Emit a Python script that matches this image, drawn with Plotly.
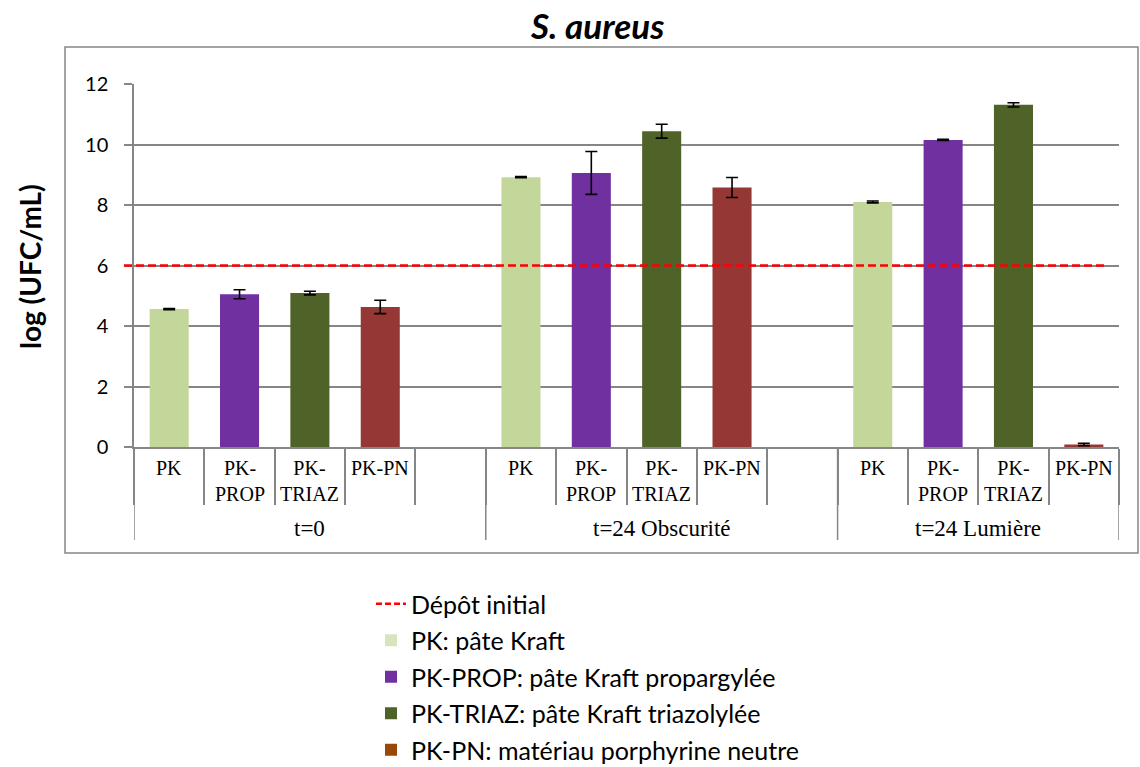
import plotly.graph_objects as go

# ---------------- data ----------------
GROUPS = ["t=0", "t=24 Obscurité", "t=24 Lumière"]
GROUP_SLOTS = [5, 5, 4]          # t=0 and t=24 Obscurité have an empty slot after PK-PN
CATEGORIES = ["PK", "PK-\nPROP", "PK-\nTRIAZ", "PK-PN"]
SERIES_NAMES = ["PK: pâte Kraft", "PK-PROP: pâte Kraft propargylée",
                "PK-TRIAZ: pâte Kraft triazolylée", "PK-PN: matériau porphyrine neutre"]
PK_VALUES = [4.56, 8.92, 8.10]
PK_ERRORS = [0.02, 0.02, 0.03]
PROP_VALUES = [5.05, 9.06, 10.15]
PROP_ERRORS = [0.15, 0.71, 0.02]
TRIAZ_VALUES = [5.09, 10.44, 11.31]
TRIAZ_ERRORS = [0.06, 0.23, 0.07]
PN_VALUES = [4.63, 8.58, 0.08]
PN_ERRORS = [0.22, 0.33, 0.04]
DEPOT_INITIAL = 6.0
Y_TICKS = [0, 2, 4, 6, 8, 10, 12]

BAR_COLORS = ["#C4D79B", "#7030A0", "#4F6228", "#953735"]
LEGEND_COLORS = ["#D7E4BD", "#7030A0", "#4F6228", "#984807"]
GRAY = "#868686"

# ---------------- geometry helpers (reference pixels -> paper) ----------------
W, H = 1140, 767
L, R, T, B = 134, 1119, 84, 447


def px_x(p):
    return (p - L) / (R - L)


def px_y(p):
    return (B - p) / (B - T)


starts = []
s = 0
for n in GROUP_SLOTS:
    starts.append(s)
    s += n
n_slots = s

values = [PK_VALUES, PROP_VALUES, TRIAZ_VALUES, PN_VALUES]
errors = [PK_ERRORS, PROP_ERRORS, TRIAZ_ERRORS, PN_ERRORS]

fig = go.Figure()

for i in range(4):
    fig.add_trace(go.Bar(
        x=[st + i for st in starts],
        y=values[i],
        width=0.555,
        marker=dict(color=BAR_COLORS[i], line=dict(width=0)),
        error_y=dict(type="data", array=errors[i], color="black", thickness=1.6, width=6),
        showlegend=False,
        hoverinfo="skip",
    ))

# legend-only entries
fig.add_trace(go.Scatter(
    x=[None], y=[None], mode="lines", name="Dépôt initial",
    line=dict(color="red", width=2.5, dash="6px,3px"),
    legendgroup="g0", legendrank=1,
))
for i in range(4):
    fig.add_trace(go.Bar(
        x=[None], y=[None], name=SERIES_NAMES[i],
        marker=dict(color=LEGEND_COLORS[i], line=dict(width=0)),
        legendgroup=f"g{i+1}", legendrank=i + 2,
    ))

shapes = []
# initial deposit line
shapes.append(dict(type="line", xref="paper", yref="y",
                   x0=px_x(124), x1=px_x(1108), y0=DEPOT_INITIAL, y1=DEPOT_INITIAL,
                   line=dict(color="red", width=2.5, dash="8px,4px"), layer="above"))
# group dividers
bounds = [st - 0.5 for st in starts] + [n_slots - 0.5]
for b in bounds:
    shapes.append(dict(type="line", xref="x", yref="paper", x0=b, x1=b,
                       y0=0, y1=px_y(540), line=dict(color=GRAY, width=1.5)))
# outer chart box
shapes.append(dict(type="rect", xref="paper", yref="paper",
                   x0=px_x(65), x1=px_x(1138), y0=px_y(553), y1=px_y(47),
                   line=dict(color=GRAY, width=1.5), fillcolor="rgba(0,0,0,0)", layer="below"))

annotations = []
# category labels
for st in starts:
    for i, c in enumerate(CATEGORIES):
        annotations.append(dict(
            x=st + i, xref="x", y=px_y(455), yref="paper",
            text=c.replace("\n", "<br>"), showarrow=False,
            xanchor="center", yanchor="top",
            font=dict(family="Liberation Serif", size=20, color="black"),
        ))
# group labels
for g, st, n in zip(GROUPS, starts, GROUP_SLOTS):
    cx = st + 1.5 if n == 4 else st + (n - 1) / 2
    annotations.append(dict(
        x=cx, xref="x", y=px_y(528), yref="paper",
        text=g, showarrow=False, xanchor="center", yanchor="middle",
        font=dict(family="Liberation Serif", size=23, color="black"),
    ))
# y title
annotations.append(dict(
    x=px_x(30), xref="paper", y=px_y(267), yref="paper",
    text="<b>log (UFC/mL)</b>", textangle=-90, showarrow=False,
    xanchor="center", yanchor="middle",
    font=dict(family="Lato", size=28, color="black"),
))
# title
annotations.append(dict(
    x=px_x(597), xref="paper", y=px_y(25), yref="paper",
    text="<b><i>S. aureus</i></b>", showarrow=False,
    xanchor="center", yanchor="middle",
    font=dict(family="Lato", size=35, color="black"),
))

fig.update_layout(
    width=W, height=H,
    margin=dict(l=L, r=W - R, t=T, b=H - B, pad=0, autoexpand=False),
    paper_bgcolor="white", plot_bgcolor="white",
    barmode="overlay",
    shapes=shapes,
    annotations=annotations,
    showlegend=True,
    legend=dict(
        x=px_x(371), y=px_y(581), xref="paper", yref="paper",
        xanchor="left", yanchor="top",
        font=dict(family="Lato", size=25, color="black"),
        tracegroupgap=1, bgcolor="rgba(0,0,0,0)",
        itemwidth=30,
    ),
    xaxis=dict(
        range=[-0.5, n_slots - 0.5],
        tickmode="array", tickvals=[k - 0.5 for k in range(n_slots + 1)],
        ticks="outside", ticklen=56, tickwidth=1.5, tickcolor=GRAY,
        showticklabels=False, showgrid=False, zeroline=False,
        showline=True, linecolor=GRAY, linewidth=1.5,
    ),
    yaxis=dict(
        range=[0, 12], tickmode="array", tickvals=Y_TICKS,
        ticks="outside", ticklen=8, tickwidth=1.5, tickcolor=GRAY,
        showgrid=True, gridcolor=GRAY, gridwidth=1.5,
        zeroline=False, showline=True, linecolor=GRAY, linewidth=1.5,
        tickfont=dict(family="Lato", size=20, color="black"),
        ticklabelstandoff=12,
    ),
)

# remove the default page margin so the figure sits at the window's top-left corner
fig.write_html("out.html", config={"displayModeBar": False},
               post_script="document.body.style.margin='0';")
